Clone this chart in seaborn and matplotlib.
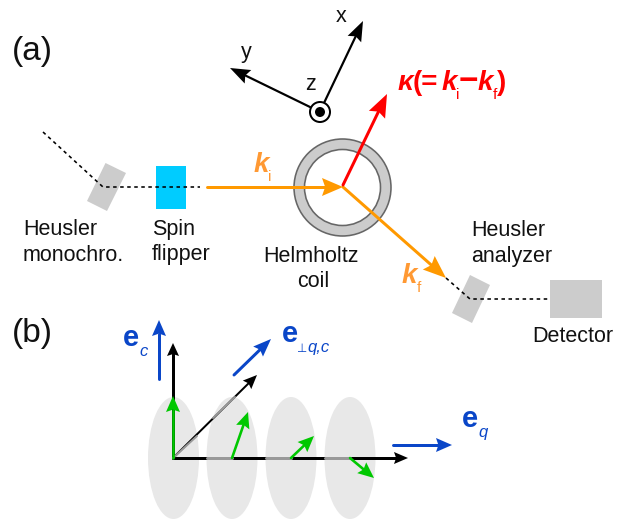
"""Neutron spectrometer schematic: (a) beam layout, (b) scattering geometry."""

import numpy as np
import matplotlib
matplotlib.use("Agg")
import matplotlib.pyplot as plt
from matplotlib.patches import Circle, Ellipse, Polygon, Rectangle
import seaborn as sns

WIDTH, HEIGHT = 625, 519

ORANGE = "#FF9900"
ORANGE_TXT = "#FF9933"
RED = "#FF0000"
GREEN = "#00C800"
BLUE = "#0A46C8"
GREY = "#CCCCCC"

# component outlines, in picture pixels
mono_corners = [(105.5, 163), (126, 173), (107, 211), (87, 201)]
analyzer_corners = [(470, 275), (490, 285), (472, 323), (452, 313)]
flipper_box = (156, 166, 30, 43)
detector_box = (550, 280, 52, 38)
coil_center = (342.5, 187.5)
coil_radii = (48.5, 38)

# dashed beam paths
beam_in_x = [43, 103, 200]
beam_in_y = [132, 187, 187]
beam_out_x = [446, 470, 550]
beam_out_y = [278, 299, 299]

# panel (a) arrows: start, tip, line width px, head length, head width, colour
arrows_a = [
    ((207, 187), (343, 187), 3.0, 21, 18, ORANGE),
    ((343, 187), (446, 278), 3.0, 23, 18, ORANGE),
    ((343, 185), (387, 94), 3.0, 23, 18, RED),
    ((324, 103), (363, 21), 2.2, 20, 15, "black"),
    ((310, 107), (230, 68), 2.2, 20, 15, "black"),
]

# panel (b)
ellipse_x = [173.5, 232, 291, 350]
ellipse_y = 458
ellipse_w, ellipse_h = 51, 122

arrows_black = [
    ((173, 458), (173, 343), 3.0, 13, 12, "black"),
    ((173, 458), (408, 458), 3.0, 14, 12, "black"),
    ((173, 458), (257, 375), 2.0, 14, 12, "black"),
]
# parts of the black axes seen through the ellipses
shaded_x = [[207, 232], [266, 291], [325, 350], [173, 197], [213, 235]]
shaded_y = [[458, 458], [458, 458], [458, 458], [458, 436], [418, 397]]

arrows_green = [
    ((173, 458), (173, 396), 2.6, 16, 14, GREEN),
    ((232, 458), (248, 412), 2.6, 16, 14, GREEN),
    ((291, 458), (314, 436), 2.6, 16, 14, GREEN),
    ((350, 458), (374, 478), 2.6, 16, 14, GREEN),
]
arrows_blue = [
    ((159, 379), (159, 320), 3.0, 16, 14, BLUE),
    ((234, 375), (271, 339), 3.0, 18, 14, BLUE),
    ((393, 445), (452, 445), 3.0, 16, 14, BLUE),
]

# text: x, baseline y, string
labels_black = [
    (23, 235, "Heusler"), (23, 261, "monochro."),
    (152, 235, "Spin"), (152, 260, "flipper"),
    (263, 262, "Helmholtz"), (297, 287, "coil"),
    (471, 236, "Heusler"), (471, 262, "analyzer"),
    (532, 342, "Detector"),
    (336, 22, "x"), (305, 90, "z"), (241, 58, "y"),
]
panel_labels = [(12, 60, "(a)"), (12, 342, "(b)")]
kappa_parts = [(397, "κ", "bolditalic", 20), (413, "(=", "bold", 20), (442, "k", "bolditalic", 20),
               (458.5, "−", "bold", 24), (478, "k", "bolditalic", 20), (497, ")", "bold", 20)]
kappa_subs = [(456, "i"), (493, "f")]


def px(width):
    return width * 72 / 100


def path(ax, xs, ys, color, width, style="-", z=3):
    sns.lineplot(x=xs, y=ys, sort=False, estimator=None, color=color, linewidth=px(width),
                 linestyle=style, ax=ax, legend=False, zorder=z)


def arrow(ax, start, tip, width, head_len, head_w, color, z=4):
    start, tip = np.array(start, float), np.array(tip, float)
    unit = (tip - start) / np.hypot(*(tip - start))
    normal = np.array([-unit[1], unit[0]])
    base = tip - unit * head_len
    notch = tip - unit * head_len * 0.85
    path(ax, [start[0], notch[0]], [start[1], notch[1]], color, width, z=z)
    ax.add_patch(Polygon([tip, base + normal * head_w / 2, notch, base - normal * head_w / 2],
                         closed=True, facecolor=color, edgecolor="none", zorder=z))


sns.set_theme(style="white")
plt.rcParams["font.family"] = ["Liberation Sans", "DejaVu Sans"]

fig = plt.figure(figsize=(WIDTH / 100, HEIGHT / 100), dpi=100)
ax = fig.add_axes([0, 0, 1, 1])

# components
ax.add_patch(Polygon(mono_corners, facecolor=GREY, edgecolor="none", zorder=1))
ax.add_patch(Polygon(analyzer_corners, facecolor=GREY, edgecolor="none", zorder=1))
ax.add_patch(Rectangle(flipper_box[:2], *flipper_box[2:], facecolor="#00CCFF", edgecolor="none", zorder=1))
ax.add_patch(Rectangle(detector_box[:2], *detector_box[2:], facecolor=GREY, edgecolor="none", zorder=1))
ax.add_patch(Circle(coil_center, coil_radii[0], facecolor=GREY, edgecolor="#666666", lw=px(1.6), zorder=1))
ax.add_patch(Circle(coil_center, coil_radii[1], facecolor="white", edgecolor="#666666", lw=px(1.6), zorder=1))

path(ax, beam_in_x, beam_in_y, "black", 1.6, (0, (2.2, 2.2)))
path(ax, beam_out_x, beam_out_y, "black", 1.6, (0, (2.2, 2.2)))

for spec in arrows_a:
    arrow(ax, *spec)

# z axis marker
ax.add_patch(Circle((320, 112), 10, facecolor="white", edgecolor="black", lw=px(2), zorder=5))
ax.add_patch(Circle((320, 112), 5, facecolor="black", edgecolor="none", zorder=6))

# panel (b)
for ex in ellipse_x:
    ax.add_patch(Ellipse((ex, ellipse_y), ellipse_w, ellipse_h, facecolor="#E8E8E8", edgecolor="none", zorder=1))
for spec in arrows_black:
    arrow(ax, *spec, z=2)
for sx, sy in zip(shaded_x, shaded_y):
    path(ax, sx, sy, "#999999", 3.0 if sy[0] == sy[1] else 2.0, z=2.5)
for spec in arrows_green + arrows_blue:
    arrow(ax, *spec)

# text
for x, y, s in labels_black:
    ax.text(x, y, s, fontsize=15.5, color="#111111", va="baseline", ha="left")
for x, y, s in panel_labels:
    ax.text(x, y, s, fontsize=24, color="#111111", va="baseline", ha="left")

for x, s, style, size in kappa_parts:
    ax.text(x, 90, s, fontsize=size, color=RED, va="baseline", ha="left",
            fontweight="bold", fontstyle="italic" if "italic" in style else "normal")
for x, s in kappa_subs:
    ax.text(x, 99, s, fontsize=11, color=RED, va="baseline", ha="left")

ax.text(254, 172, "k", fontsize=20, color=ORANGE_TXT, fontweight="bold", fontstyle="italic", va="baseline")
ax.text(268, 181, "i", fontsize=11, color=ORANGE_TXT, va="baseline")
ax.text(402, 283, "k", fontsize=20, color=ORANGE_TXT, fontweight="bold", fontstyle="italic", va="baseline")
ax.text(417, 292, "f", fontsize=11, color=ORANGE_TXT, va="baseline")

ax.text(123, 346, "e", fontsize=21, color=BLUE, fontweight="bold", va="baseline")
ax.text(139, 356, "c", fontsize=12, color=BLUE, fontstyle="italic", va="baseline")
ax.text(282, 342, "e", fontsize=21, color=BLUE, fontweight="bold", va="baseline")
ax.text(297.5, 352, "⊥", fontsize=8.5, color=BLUE, va="baseline")
ax.text(307.5, 352, "q,c", fontsize=12, color=BLUE, fontstyle="italic", va="baseline")
ax.text(462, 427, "e", fontsize=21, color=BLUE, fontweight="bold", va="baseline")
ax.text(478, 437, "q", fontsize=12, color=BLUE, fontstyle="italic", va="baseline")

ax.set_xlim(0, WIDTH)
ax.set_ylim(HEIGHT, 0)
ax.axis("off")

fig.savefig("out.png", dpi=100, facecolor="white")
